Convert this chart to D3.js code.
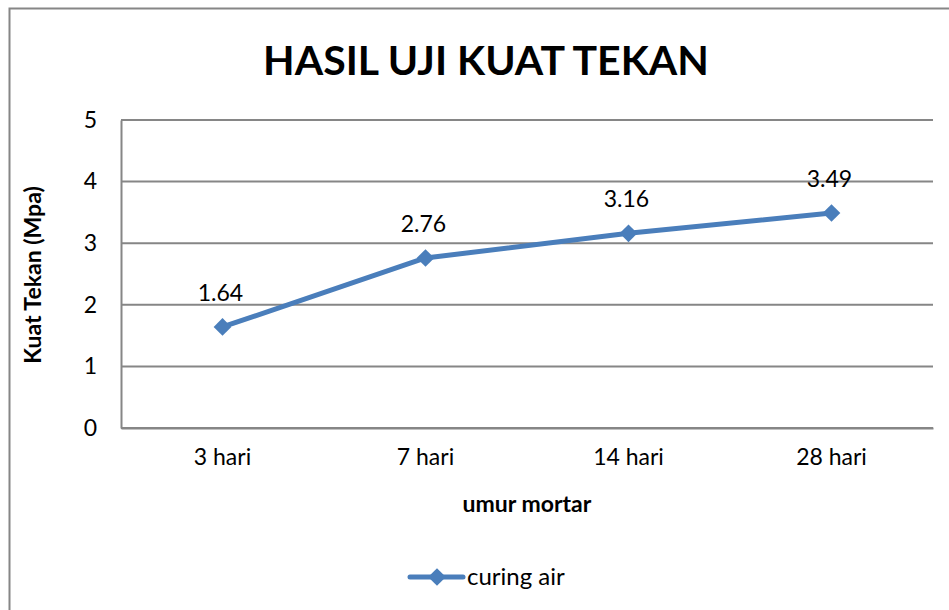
<!DOCTYPE html>
<html>
<head>
<meta charset="utf-8">
<script src="https://cdn.jsdelivr.net/npm/d3@7"></script>
<style>
  body { margin: 0; background: #fff; }
  text { font-family: Lato, "Open Sans", sans-serif; fill: #000; }
</style>
</head>
<body>
<div id="chart"></div>
<script>
const categories = ['3 hari', '7 hari', '14 hari', '28 hari'];
const values = [1.64, 2.76, 3.16, 3.49];
const yTicks = [0, 1, 2, 3, 4, 5];
const seriesName = 'curing air';

const width = 949, height = 610;
const margin = { top: 120, right: 16, bottom: 182, left: 121 };
const blue = '#4a7ebb';
const grey = '#868686';

const svg = d3.select('#chart').append('svg')
  .attr('width', width)
  .attr('height', height);

// outer chart frame
svg.append('rect')
  .attr('x', 9.5).attr('y', 8.5)
  .attr('width', 960).attr('height', 640)
  .attr('fill', 'none').attr('stroke', grey).attr('stroke-width', 2);

const x = d3.scaleBand()
  .domain(categories)
  .range([margin.left, width - margin.right]);

const y = d3.scaleLinear()
  .domain([0, 5])
  .range([height - margin.bottom, margin.top]);

// gridlines
svg.append('g')
  .selectAll('line')
  .data(yTicks)
  .join('line')
  .attr('x1', margin.left).attr('x2', width - margin.right)
  .attr('y1', d => y(d)).attr('y2', d => y(d))
  .attr('stroke', grey).attr('stroke-width', 2);

// y axis
const yAxis = svg.append('g')
  .attr('transform', `translate(${margin.left},0)`)
  .call(d3.axisLeft(y).tickValues(yTicks).tickFormat(d3.format('d')).tickSize(0).tickPadding(24));
yAxis.select('.domain').attr('stroke', grey).attr('stroke-width', 2);
yAxis.selectAll('text').attr('font-size', 23).attr('font-family', 'Lato');

// x axis
const xAxis = svg.append('g')
  .attr('transform', `translate(0,${y(0)})`)
  .call(d3.axisBottom(x).tickSize(0).tickPadding(21));
xAxis.select('.domain').attr('stroke', grey).attr('stroke-width', 2);
xAxis.selectAll('text').attr('font-size', 23).attr('font-family', 'Lato');

// line
const cx = d => x(d) + x.bandwidth() / 2;
const line = d3.line()
  .x((d, i) => cx(categories[i]))
  .y(d => y(d));

svg.append('path')
  .datum(values)
  .attr('d', line)
  .attr('fill', 'none')
  .attr('stroke', blue)
  .attr('stroke-width', 5)
  .attr('stroke-linejoin', 'round');

const diamond = d3.symbol().type(d3.symbolDiamond2).size(200);

svg.append('g')
  .selectAll('path')
  .data(values)
  .join('path')
  .attr('d', diamond)
  .attr('transform', (d, i) => `translate(${cx(categories[i])},${y(d)})`)
  .attr('fill', blue);

// data labels
svg.append('g')
  .selectAll('text')
  .data(values)
  .join('text')
  .attr('x', (d, i) => cx(categories[i]) - 2)
  .attr('y', d => y(d) - 26)
  .attr('text-anchor', 'middle')
  .attr('font-size', 23)
  .text(d => d.toFixed(2));

// title
svg.append('text')
  .attr('x', 486).attr('y', 75)
  .attr('text-anchor', 'middle')
  .attr('font-size', 41)
  .attr('font-weight', 'bold')
  .text('HASIL UJI KUAT TEKAN');

// axis titles
svg.append('text')
  .attr('x', 527).attr('y', 512)
  .attr('text-anchor', 'middle')
  .attr('font-size', 23)
  .attr('font-weight', 'bold')
  .text('umur mortar');

svg.append('text')
  .attr('transform', 'translate(41,275) rotate(-90)')
  .attr('text-anchor', 'middle')
  .attr('font-size', 23)
  .attr('font-weight', 'bold')
  .text('Kuat Tekan (Mpa)');

// legend
const legend = svg.append('g').attr('transform', 'translate(410,577)');
legend.append('line')
  .attr('x1', 0).attr('x2', 53)
  .attr('stroke', blue).attr('stroke-width', 5).attr('stroke-linecap', 'round');
legend.append('path')
  .attr('d', diamond)
  .attr('transform', 'translate(27,0)')
  .attr('fill', blue);
legend.append('text')
  .attr('x', 57).attr('y', 8)
  .attr('font-size', 24)
  .text(seriesName);
</script>
</body>
</html>
